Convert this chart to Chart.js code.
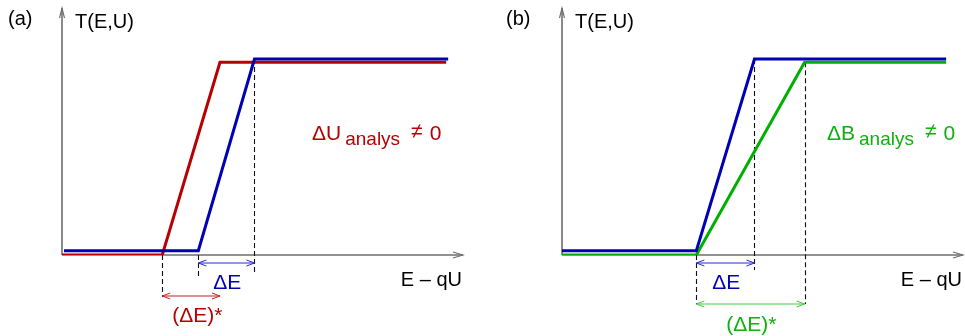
<!DOCTYPE html>
<html><head><meta charset="utf-8">
<script src="https://cdn.jsdelivr.net/npm/chart.js@4.4.1/dist/chart.umd.min.js"></script>
<style>
html,body{margin:0;padding:0;background:#fff;}
#wrap{position:relative;width:965px;height:336px;overflow:hidden;}
.pane{position:absolute;top:0;}
</style></head>
<body>
<div id="wrap">
  <div class="pane" style="left:0"><canvas id="ca" width="482" height="336"></canvas></div>
  <div class="pane" style="left:483px"><canvas id="cb" width="482" height="336"></canvas></div>
</div>
<script>
// ---- data (schematic units: x = E - qU, y = transmission T) ----
const xRange = [0, 100];
const yRange = [0, 1.26];

// panel (a): undisturbed (blue) vs. analysing-potential shift (red)
const aBlueX = [0.5, 34, 48, 96.3];
const aBlueY = [0.022, 0.022, 1.0, 1.0];
const aRedX  = [0, 25, 39.4, 95.8];
const aRedY  = [0, 0, 0.983, 0.983];

// panel (b): undisturbed (blue) vs. analysing-field broadening (green)
const bBlueX  = [0, 33.5, 48, 95.8];
const bBlueY  = [0.022, 0.022, 1.0, 1.0];
const bGreenX = [0, 33.5, 60.5, 95.8];
const bGreenY = [0, 0, 0.983, 0.983];

const labels = {
  a: {panel: '(a)', yTitle: 'T(E,U)', xTitle: 'E \u2013 qU', main: '\u0394U', sub: 'analys', neq: '\u2260', zero: '0', dE: '\u0394E', dEs: '(\u0394E)*'},
  b: {panel: '(b)', yTitle: 'T(E,U)', xTitle: 'E \u2013 qU', main: '\u0394B', sub: 'analys', neq: '\u2260', zero: '0', dE: '\u0394E', dEs: '(\u0394E)*'}
};

const RED = '#b80000', BLUE = '#0000b4', GREEN = '#00b000';
const FONT = '"Liberation Sans", Arial, Helvetica, sans-serif';

function pts(xs, ys){ return xs.map((x,i)=>({x:x, y:ys[i]})); }

function arrowHead(ctx, x, y, dx, dy, len, half){
  const nx = -dy, ny = dx;
  ctx.beginPath();
  ctx.moveTo(x - dx*len + nx*half, y - dy*len + ny*half);
  ctx.lineTo(x, y);
  ctx.lineTo(x - dx*len - nx*half, y - dy*len - ny*half);
  ctx.stroke();
}
function dblArrow(ctx, x1, x2, y, color, w){
  ctx.save();
  ctx.strokeStyle = color; ctx.lineWidth = w; ctx.setLineDash([]);
  ctx.beginPath(); ctx.moveTo(x1, y); ctx.lineTo(x2, y); ctx.stroke();
  arrowHead(ctx, x2, y, 1, 0, 8, 3);
  arrowHead(ctx, x1, y, -1, 0, 8, 3);
  ctx.restore();
}
function vdash(ctx, x, y1, y2){
  ctx.save();
  ctx.strokeStyle = '#111'; ctx.lineWidth = 1.1; ctx.setLineDash([5,3]);
  ctx.beginPath(); ctx.moveTo(Math.round(x)+0.5, y1); ctx.lineTo(Math.round(x)+0.5, y2); ctx.stroke();
  ctx.restore();
}

function makeChart(id, sets, cfg){
  const lab = cfg.labels;
  const deco = {
    id: 'deco',
    beforeDatasetsDraw(chart){
      const ctx = chart.ctx, xs = chart.scales.x, ys = chart.scales.y;
      const x0 = xs.getPixelForValue(xRange[0]), x1 = xs.getPixelForValue(xRange[1]);
      const y0 = ys.getPixelForValue(yRange[0]), y1 = ys.getPixelForValue(yRange[1]);
      ctx.save();
      ctx.strokeStyle = '#6e6e6e'; ctx.lineWidth = 1.6;
      ctx.beginPath(); ctx.moveTo(x0, y0); ctx.lineTo(x1, y0); ctx.stroke();
      ctx.beginPath(); ctx.moveTo(x0, y0); ctx.lineTo(x0, y1); ctx.stroke();
      ctx.lineWidth = 1.1;
      arrowHead(ctx, x1, y0, 1, 0, 10, 3);
      arrowHead(ctx, x0, y1, 0, -1, 10, 2.5);
      ctx.restore();
      cfg.dashes.forEach(d => vdash(ctx, xs.getPixelForValue(d.x), ys.getPixelForValue(d.y), y0 + d.below));
    },
    afterDatasetsDraw(chart){
      const ctx = chart.ctx, xs = chart.scales.x, ys = chart.scales.y;
      const y0 = ys.getPixelForValue(0);
      const ca = chart.chartArea;
      cfg.arrows.forEach(a => dblArrow(ctx, xs.getPixelForValue(a.from), xs.getPixelForValue(a.to), y0 + a.below, a.color, 1));
      ctx.save();
      ctx.textBaseline = 'alphabetic';
      ctx.font = '20px ' + FONT; ctx.fillStyle = '#000';
      ctx.textAlign = 'left';
      ctx.fillText(lab.panel, ca.left + cfg.panelDx, 25);
      ctx.fillText(lab.yTitle, ca.left + 13, 28);
      ctx.textAlign = 'right';
      ctx.fillText(lab.xTitle, ca.right - 1, y0 + 31);
      // annotation with subscript
      ctx.textAlign = 'left'; ctx.fillStyle = cfg.textColor;
      let tx = ca.left + cfg.annDx;
      ctx.font = '21px ' + FONT; ctx.fillText(lab.main, tx, 140);
      tx += ctx.measureText(lab.main).width + 4;
      ctx.font = '19px ' + FONT; ctx.fillText(lab.sub, tx, 145);
      tx += ctx.measureText(lab.sub).width + 11;
      ctx.font = '21px ' + FONT; ctx.fillText(lab.neq, tx, 138);
      tx += ctx.measureText(lab.neq).width + 7;
      ctx.font = '21px ' + FONT; ctx.fillText(lab.zero, tx, 140);
      ctx.textAlign = 'center';
      cfg.texts.forEach(t => {
        ctx.fillStyle = t.color; ctx.font = '21px ' + FONT;
        ctx.fillText(t.text, xs.getPixelForValue(t.x) + t.dx, y0 + t.below);
      });
      ctx.restore();
    }
  };
  return new Chart(document.getElementById(id), {
    type: 'scatter',
    data: { datasets: sets.map(s => ({
      data: pts(s.x, s.y), showLine: true, borderColor: s.color, backgroundColor: s.color,
      borderWidth: 3, pointRadius: 0, pointHoverRadius: 0, borderJoinStyle: 'miter', tension: 0, fill: false
    })) },
    options: {
      responsive: false, animation: false, devicePixelRatio: 1,
      layout: { padding: cfg.padding },
      plugins: { legend: {display:false}, tooltip: {enabled:false}, title: {display:false} },
      events: [],
      scales: {
        x: { type:'linear', display:false, min:xRange[0], max:xRange[1] },
        y: { type:'linear', display:false, min:yRange[0], max:yRange[1] }
      }
    },
    plugins: [deco]
  });
}

makeChart('ca', [
  {x:aBlueX, y:aBlueY, color:BLUE},
  {x:aRedX, y:aRedY, color:RED}
], {
  labels: labels.a, textColor: RED, panelDx: -54, annDx: 250,
  padding: {left:62, top:8, right:19, bottom:81},
  dashes: [
    {x:aRedX[1], y:aRedY[1], below:42},
    {x:aBlueX[1], y:0, below:22},
    {x:aBlueX[2], y:aBlueY[2], below:17}
  ],
  arrows: [
    {from:aBlueX[1], to:aBlueX[2], below:8, color:'#2a2ad0'},
    {from:aRedX[1], to:aRedX[2], below:41, color:'#c82020'}
  ],
  texts: [
    {text:labels.a.dE, x:aBlueX[1], dx:29, below:34, color:BLUE},
    {text:labels.a.dEs, x:aRedX[1], dx:35, below:67, color:RED}
  ]
});

makeChart('cb', [
  {x:bBlueX, y:bBlueY, color:BLUE},
  {x:bGreenX, y:bGreenY, color:GREEN}
], {
  labels: labels.b, textColor: '#10b010', panelDx: -56, annDx: 265,
  padding: {left:79, top:8, right:2, bottom:81},
  dashes: [
    {x:bBlueX[1], y:0, below:49},
    {x:bBlueX[2], y:bBlueY[2], below:15},
    {x:bGreenX[2], y:bGreenY[2], below:49}
  ],
  arrows: [
    {from:bBlueX[1], to:bBlueX[2], below:8, color:'#2a2ad0'},
    {from:bGreenX[1], to:bGreenX[2], below:49, color:'#40c840'}
  ],
  texts: [
    {text:labels.b.dE, x:bBlueX[1], dx:30, below:34, color:BLUE},
    {text:labels.b.dEs, x:bGreenX[1], dx:55, below:76, color:'#10b010'}
  ]
});
</script>
</body></html>
